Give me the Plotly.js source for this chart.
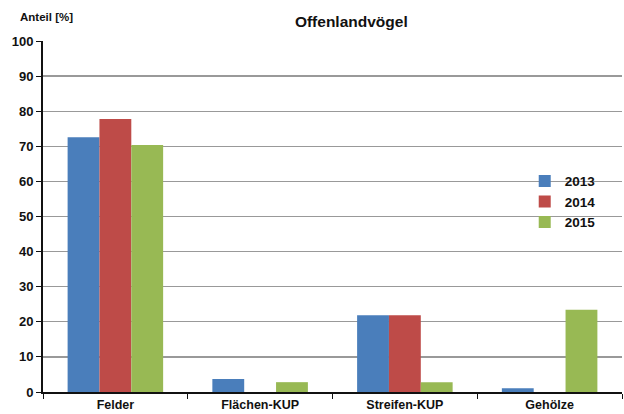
<!DOCTYPE html>
<html><head><meta charset="utf-8">
<script src="https://cdn.plot.ly/plotly-3.0.1.min.js"></script>
<style>body{margin:0;background:#fff}#c{width:624px;height:414px}</style>
</head><body><div id="c"></div>
<script>
const categories = ["Felder", "Flächen-KUP", "Streifen-KUP", "Gehölze"];
const years = ["2013", "2014", "2015"];
const v2013 = [72.6, 3.7, 21.9, 1.1];
const v2014 = [77.8, 0, 21.9, 0];
const v2015 = [70.4, 2.8, 2.8, 23.4];
const yTicks = [0, 10, 20, 30, 40, 50, 60, 70, 80, 90, 100];
const colors = ["#4a7ebb", "#be4b48", "#98b954"];
const series = [v2013, v2014, v2015];
const traces = series.map((vals, i) => ({
  type: "bar", x: categories, y: vals, name: years[i],
  marker: {color: colors[i]}, hoverinfo: "none"
}));
const layout = {
  width: 624, height: 414,
  margin: {l: 43, r: 2, t: 41, b: 22},
  paper_bgcolor: "#fff", plot_bgcolor: "#fff",
  font: {family: "Liberation Sans, Arial, sans-serif", color: "#111", size: 12},
  barmode: "group", bargap: 0.34, bargroupgap: 0,
  title: {text: "<b>Offenlandvögel</b>", x: 0.563, xanchor: "center", y: 0.947, yanchor: "middle",
          font: {size: 15.5, color: "#111"}},
  xaxis: {type: "category", tickson: "boundaries", ticks: "outside", ticklen: 5, tickcolor: "#111",
          showline: true, linecolor: "#111", linewidth: 2, showgrid: false,
          tickfont: {size: 12.5, color: "#111", weight: "bold"}, fixedrange: true},
  yaxis: {range: [0, 100], tickvals: yTicks, ticktext: yTicks.map(String),
          ticks: "outside", ticklen: 5, tickcolor: "#111",
          showline: true, linecolor: "#111", linewidth: 2,
          showgrid: true, gridcolor: "#999", gridwidth: 1.3, zeroline: false,
          tickfont: {size: 13, color: "#111", weight: "bold"}, fixedrange: true},
  legend: {x: 0.832, y: 0.645, xanchor: "left", yanchor: "top", bgcolor: "rgba(0,0,0,0)",
           font: {size: 13.5, weight: "bold", color: "#111"}, itemwidth: 30, tracegroupgap: 0},
  annotations: [{text: "<b>Anteil [%]</b>", xref: "paper", yref: "paper", x: -0.043, y: 1.045,
                 xanchor: "left", yanchor: "bottom", showarrow: false, font: {size: 11.5, color: "#111"}}],
  showlegend: true
};
Plotly.newPlot("c", traces, layout, {displayModeBar: false, staticPlot: true});
</script></body></html>
